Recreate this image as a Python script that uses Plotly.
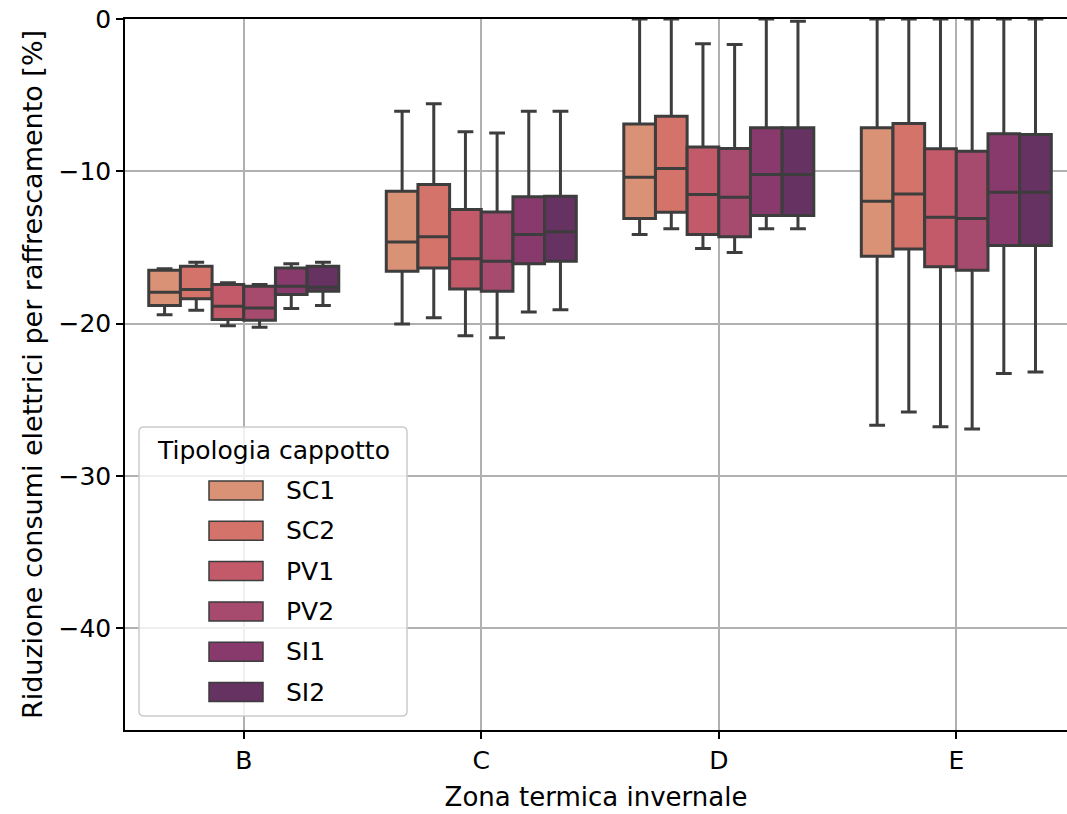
import plotly.graph_objects as go

# Winter climate zones (x categories) and insulation types (hue groups)
zones = ["B", "C", "D", "E"]
types = ["SC1", "SC2", "PV1", "PV2", "SI1", "SI2"]
colors = ["#da9277", "#d3736a", "#c35a6a", "#a64b6e", "#873a6b", "#653262"]

# Box statistics per insulation type, ordered as zones B, C, D, E
lower = {
    "SC1": [-19.42, -20.03, -14.16, -26.69],
    "SC2": [-19.13, -19.63, -13.78, -25.81],
    "PV1": [-20.14, -20.80, -15.08, -26.79],
    "PV2": [-20.25, -20.93, -15.34, -26.93],
    "SI1": [-19.02, -19.24, -13.78, -23.29],
    "SI2": [-18.82, -19.09, -13.78, -23.18],
}
q1 = {
    "SC1": [-18.82, -16.57, -13.11, -15.58],
    "SC2": [-18.38, -16.35, -12.69, -15.10],
    "PV1": [-19.74, -17.73, -14.16, -16.28],
    "PV2": [-19.78, -17.88, -14.31, -16.50],
    "SI1": [-18.10, -16.08, -12.91, -14.88],
    "SI2": [-17.88, -15.91, -12.91, -14.88],
}
median = {
    "SC1": [-17.95, -14.64, -10.39, -11.97],
    "SC2": [-17.77, -14.31, -9.82, -11.49],
    "PV1": [-18.87, -15.74, -11.53, -13.02],
    "PV2": [-18.98, -15.91, -11.71, -13.11],
    "SI1": [-17.56, -14.16, -10.22, -11.38],
    "SI2": [-17.62, -13.98, -10.22, -11.38],
}
q3 = {
    "SC1": [-16.50, -11.31, -6.89, -7.15],
    "SC2": [-16.24, -10.87, -6.39, -6.87],
    "PV1": [-17.44, -12.52, -8.40, -8.53],
    "PV2": [-17.56, -12.67, -8.51, -8.69],
    "SI1": [-16.35, -11.68, -7.15, -7.54],
    "SI2": [-16.24, -11.64, -7.15, -7.59],
}
upper = {
    "SC1": [-16.40, -6.06, 0.0, 0.0],
    "SC2": [-15.98, -5.57, 0.0, 0.0],
    "PV1": [-17.33, -7.41, -1.63, 0.0],
    "PV2": [-17.44, -7.48, -1.68, 0.0],
    "SI1": [-16.08, -6.06, 0.0, 0.0],
    "SI2": [-15.98, -6.06, -0.14, 0.0],
}

FONT = "DejaVu Sans"
EDGE = "#3d3d3d"
FS = 25

W, H = 1067, 814
ML, MR, MT, MB = 125, 0, 19, 84


def px(x):
    """Horizontal pixel -> paper coordinate."""
    return (x - ML) / (W - ML - MR)


def py(y):
    """Vertical pixel (from top) -> paper coordinate."""
    return (H - MB - y) / (H - MT - MB)


fig = go.Figure()
for name, col in zip(types, colors):
    fig.add_trace(go.Box(
        name=name,
        x=zones,
        lowerfence=lower[name],
        q1=q1[name],
        median=median[name],
        q3=q3[name],
        upperfence=upper[name],
        fillcolor=col,
        line=dict(color=EDGE, width=3),
        whiskerwidth=0.5,
        boxpoints=False,
        hoverinfo="skip",
        showlegend=False,
    ))

# Legend panel drawn as shapes + annotations (large patch swatches)
shapes = []
annotations = []
lx0, lx1, ly0, ly1, r = 139, 407, 427, 716, 5
path = (
    f"M {px(lx0 + r)} {py(ly0)} L {px(lx1 - r)} {py(ly0)} "
    f"Q {px(lx1)} {py(ly0)} {px(lx1)} {py(ly0 + r)} "
    f"L {px(lx1)} {py(ly1 - r)} Q {px(lx1)} {py(ly1)} {px(lx1 - r)} {py(ly1)} "
    f"L {px(lx0 + r)} {py(ly1)} Q {px(lx0)} {py(ly1)} {px(lx0)} {py(ly1 - r)} "
    f"L {px(lx0)} {py(ly0 + r)} Q {px(lx0)} {py(ly0)} {px(lx0 + r)} {py(ly0)} Z"
)
shapes.append(dict(type="path", xref="paper", yref="paper", path=path,
                   fillcolor="rgba(255,255,255,0.8)",
                   line=dict(color="#cccccc", width=1.5), layer="above"))
annotations.append(dict(text="Tipologia cappotto", xref="paper", yref="paper",
                        x=px(273), y=py(450), xanchor="center", yanchor="middle",
                        showarrow=False, font=dict(size=FS, family=FONT, color="black")))
for i, (name, col) in enumerate(zip(types, colors)):
    yc = 490.5 + 40.3 * i
    shapes.append(dict(type="rect", xref="paper", yref="paper",
                       x0=px(209), x1=px(263), y0=py(yc - 9.5), y1=py(yc + 9.5),
                       fillcolor=col, line=dict(color=EDGE, width=1.5), layer="above"))
    annotations.append(dict(text=name, xref="paper", yref="paper",
                            x=px(284), y=py(yc), xanchor="left", yanchor="middle",
                            showarrow=False, font=dict(size=FS, family=FONT, color="black")))

fig.update_layout(
    width=W,
    height=H,
    margin=dict(l=ML, r=MR, t=MT, b=MB),
    plot_bgcolor="white",
    paper_bgcolor="white",
    boxmode="group",
    boxgap=0.2,
    boxgroupgap=0.0,
    font=dict(family=FONT, size=FS, color="black"),
    showlegend=False,
    shapes=shapes,
    annotations=annotations,
    xaxis=dict(
        type="category",
        range=[-0.5, 3.466],
        showgrid=True, gridcolor="#b0b0b0", gridwidth=1.5,
        showline=True, linecolor="black", linewidth=1.5, mirror=True,
        ticks="outside", ticklen=7, tickwidth=1.5, tickcolor="black",
        tickfont=dict(size=FS),
        title=dict(text="Zona termica invernale", font=dict(size=26), standoff=14),
        zeroline=False,
    ),
    yaxis=dict(
        range=[-46.7, 0],
        tickvals=[0, -10, -20, -30, -40],
        ticktext=["0", "\u221210", "\u221220", "\u221230", "\u221240"],
        showgrid=True, gridcolor="#b0b0b0", gridwidth=1.5,
        showline=True, linecolor="black", linewidth=1.5,
        ticks="outside", ticklen=7, tickwidth=1.5, tickcolor="black",
        tickfont=dict(size=FS),
        title=dict(text="Riduzione consumi elettrici per raffrescamento [%]", font=dict(size=27), standoff=8),
        zeroline=False,
    ),
)

fig.write_html("out.html")
